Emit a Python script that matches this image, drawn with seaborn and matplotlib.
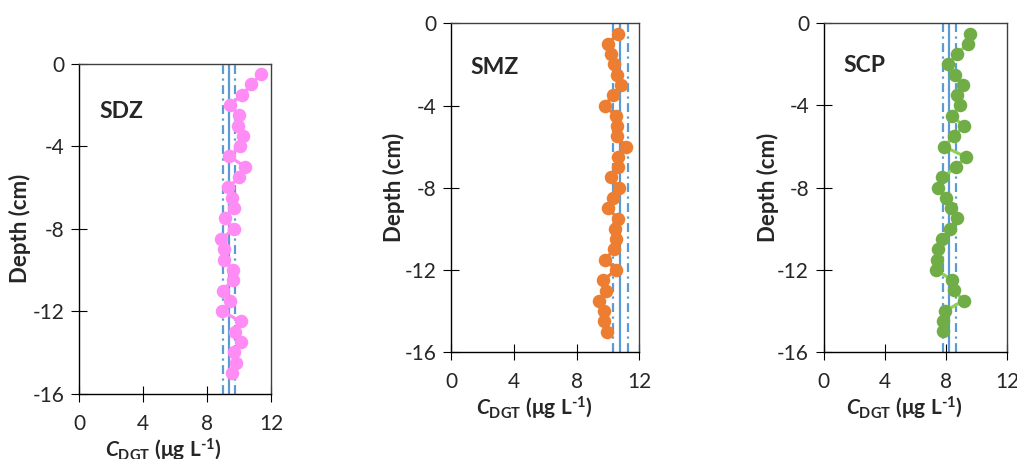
import numpy as np
import pandas as pd
import seaborn as sns
import matplotlib.pyplot as plt

# depth of each slice (cm)
depth = [-0.5, -1, -1.5, -2, -2.5, -3, -3.5, -4, -4.5, -5, -5.5, -6, -6.5, -7, -7.5,
         -8, -8.5, -9, -9.5, -10, -10.5, -11, -11.5, -12, -12.5, -13, -13.5, -14, -14.5, -15]

sdz = [11.38, 10.77, 10.21, 9.42, 10.0, 9.94, 10.25, 10.08, 9.39, 10.39, 10.02, 9.33, 9.58, 9.69, 9.10,
       9.67, 8.90, 9.08, 9.08, 9.62, 9.60, 8.98, 9.44, 8.94, 10.10, 9.73, 10.10, 9.67, 9.81, 9.54]
smz = [10.62, 10.02, 10.19, 10.36, 10.57, 10.81, 10.30, 9.79, 10.49, 10.57, 10.55, 11.17, 10.66, 10.62, 10.17,
       10.70, 10.32, 10.02, 10.62, 10.44, 10.53, 10.36, 9.83, 10.51, 9.68, 9.89, 9.40, 9.76, 9.72, 9.93]
scp = [9.58, 9.43, 8.71, 8.12, 8.60, 9.10, 8.71, 8.93, 8.38, 9.19, 8.54, 7.88, 9.30, 8.67, 7.77,
       7.49, 8.01, 8.32, 8.71, 8.30, 7.73, 7.47, 7.42, 7.38, 8.41, 8.52, 9.17, 7.95, 7.82, 7.79]

sites = ['SDZ', 'SMZ', 'SCP']
# mean and mean +/- sd of each profile
mean_vals = [9.37, 10.76, 8.22]
low_vals = [8.98, 10.30, 7.80]
high_vals = [9.73, 11.25, 8.64]

pt_colors = ['#FF8CF5', '#ED7D31', '#70AD47']
ln_colors = ['#FF8CF5', '#ED7D31', '#92D050']
ref_color = '#5B9BD5'

sns.set_style("ticks")
plt.rcParams['font.family'] = ['Lato', 'DejaVu Sans']
plt.rcParams['axes.unicode_minus'] = False
plt.rcParams['mathtext.fontset'] = 'custom'
plt.rcParams['mathtext.rm'] = 'Lato:bold'
plt.rcParams['mathtext.bf'] = 'Lato:bold'
plt.rcParams['mathtext.it'] = 'Lato:bold:italic'

fig = plt.figure(figsize=(10.17, 4.59), dpi=100)
fig.patch.set_facecolor('white')

boxes = [[0.0777, 0.1423, 0.1888, 0.7190],
         [0.4438, 0.2325, 0.1849, 0.7168],
         [0.8099, 0.2331, 0.1802, 0.7161]]
name_pos = [(1.3, -2.3), (1.2, -2.15), (1.3, -2.05)]

for i, vals in enumerate([sdz, smz, scp]):
    ax = fig.add_axes(boxes[i])
    df = pd.DataFrame({'c': vals, 'depth': depth})

    ax.axvline(mean_vals[i], color=ref_color, lw=1.6, zorder=1)
    for v in [low_vals[i], high_vals[i]]:
        ax.axvline(v, color=ref_color, lw=1.6, dashes=(4, 2, 1, 2), zorder=1)

    sns.lineplot(data=df, x='c', y='depth', sort=False, estimator=None,
                 color=ln_colors[i], lw=2.3, ax=ax, zorder=2)
    sns.scatterplot(data=df, x='c', y='depth', color=pt_colors[i], s=95,
                    linewidth=0, ax=ax, zorder=3)

    ax.set_xlim(0, 12)
    ax.set_ylim(-16, 0)
    ax.set_xticks([0, 4, 8, 12])
    ax.set_yticks([0, -4, -8, -12, -16])
    ax.tick_params(direction='inout', length=11, width=0.8, labelsize=15, color='black')
    ax.tick_params(axis='x', pad=9)
    ax.tick_params(axis='y', pad=5)
    for s in ['left', 'bottom']:
        ax.spines[s].set_color('black')
        ax.spines[s].set_linewidth(1.0)
    for s in ['top', 'right']:
        ax.spines[s].set_color('#404040')
        ax.spines[s].set_linewidth(1.0)

    ax.text(name_pos[i][0], name_pos[i][1], sites[i], fontsize=16.5, fontweight='bold',
            va='center', ha='left')

    ax.set_ylabel('Depth (cm)', fontsize=16, fontweight='bold')
    ax.set_xlabel(r'$\mathit{C}_{\mathbf{DGT}}\ \mathbf{(\mu g\ L^{\u2010 1})}$'.replace(r'\u2010 ', '\u2010'),
                  fontsize=15)
    ax.yaxis.set_label_coords(-0.305, 0.5)
    ax.yaxis.label.set_va('center')
    ax.xaxis.set_label_coords(0.44, -0.172)
    ax.xaxis.label.set_va('center')

fig.savefig('out.png', dpi=100)
